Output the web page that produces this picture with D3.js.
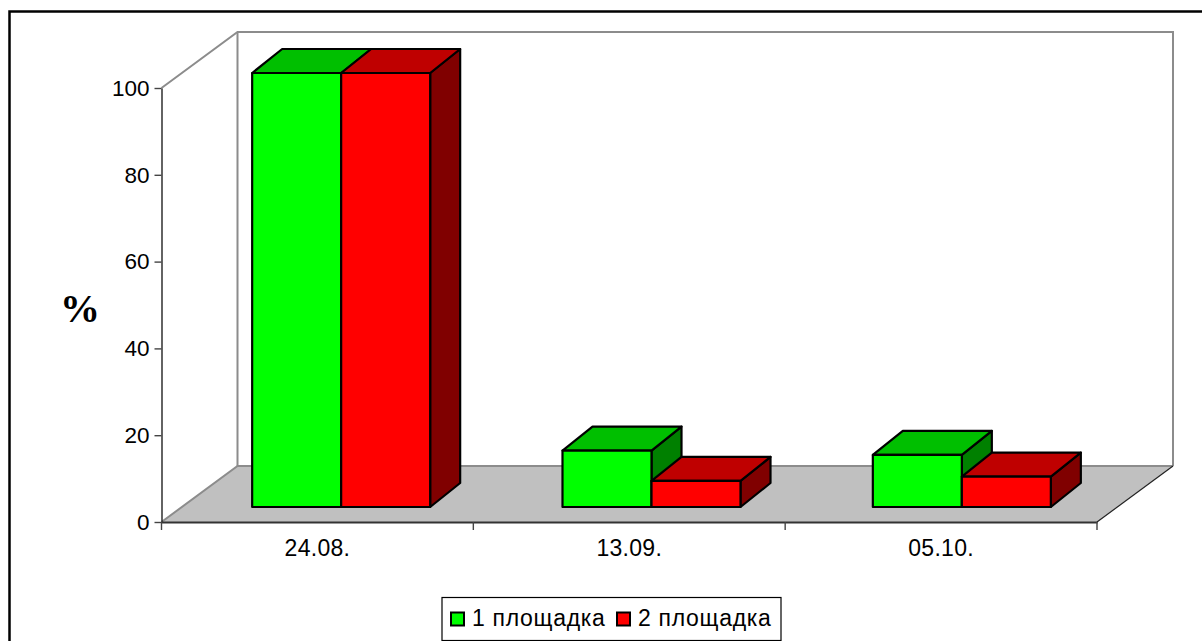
<!DOCTYPE html>
<html>
<head>
<meta charset="utf-8">
<script src="https://cdn.jsdelivr.net/npm/d3@7"></script>
<style>
  html, body { margin: 0; padding: 0; background: #fff; }
  text { font-family: "Liberation Sans", Arial, sans-serif; fill: #000; }
</style>
</head>
<body>
<div id="chart"></div>
<script>
const categories = ["24.08.", "13.09.", "05.10."];
const seriesNames = ["1 площадка", "2 площадка"];
const site1 = [100, 13, 12];
const site2 = [100, 6, 7];
const yTicks = [0, 20, 40, 60, 80, 100];

const frontColors = ["#00ff00", "#ff0000"];
const topColors = ["#00bf00", "#bf0000"];
const sideColors = ["#008000", "#800000"];

const width = 1202, height = 641;
const wallDx = 76, wallDy = -56;   // depth of the whole chart box
const barDx = 30, barDy = -24;     // depth of one bar
const barLift = 15;                // bars stand this far up the floor

const svg = d3.select("#chart").append("svg")
    .attr("width", width)
    .attr("height", height)
    .style("display", "block");

const y = d3.scaleLinear().domain([0, 100]).range([522, 88]);
const x = d3.scaleBand().domain(categories).range([161.5, 1097]);
const barGroup = d3.scaleBand().domain(categories).range([186, 1117]);
const barInner = d3.scaleBand().domain([0, 1]).range([0, 178]);
const groupPad = (barGroup.bandwidth() - 178) / 2;

const path = pts => d3.line()(pts) + "Z";

// outer frame, only left and top are in the picture
svg.append("path")
    .attr("d", "M9.5,641V11.5H1202")
    .attr("fill", "none")
    .attr("stroke", "#000")
    .attr("stroke-width", 2.5);

const x0 = x.range()[0], x1 = x.range()[1];
const y0 = y(0), y100 = y(100);

// walls
svg.append("path")
    .attr("d", d3.line()([[x0, y100], [x0 + wallDx, y100 + wallDy], [x1 + wallDx, y100 + wallDy], [x1 + wallDx, y0 + wallDy]]))
    .attr("fill", "none")
    .attr("stroke", "#8c8c8c")
    .attr("stroke-width", 2);
svg.append("line")
    .attr("x1", x0 + wallDx).attr("x2", x0 + wallDx)
    .attr("y1", y100 + wallDy).attr("y2", y0 + wallDy)
    .attr("stroke", "#8c8c8c")
    .attr("stroke-width", 2);

// floor
svg.append("path")
    .attr("d", path([[x0, y0], [x0 + wallDx, y0 + wallDy], [x1 + wallDx, y0 + wallDy], [x1, y0]]))
    .attr("fill", "#c0c0c0");
svg.append("path")
    .attr("d", d3.line()([[x0, y0], [x0 + wallDx, y0 + wallDy], [x1 + wallDx, y0 + wallDy]]))
    .attr("fill", "none")
    .attr("stroke", "#8c8c8c")
    .attr("stroke-width", 2);
svg.append("line")
    .attr("x1", x1).attr("y1", y0)
    .attr("x2", x1 + wallDx).attr("y2", y0 + wallDy)
    .attr("stroke", "#222")
    .attr("stroke-width", 1.2);

// bars
const bars = [];
[site1, site2].forEach((vals, s) => {
    vals.forEach((v, i) => bars.push({cat: categories[i], s: s, v: v}));
});

const barG = svg.append("g")
    .attr("stroke", "#000")
    .attr("stroke-width", 2.2)
    .attr("stroke-linejoin", "round");

categories.forEach(cat => {
    bars.filter(d => d.cat === cat).forEach(d => {
        const l = barGroup(cat) + groupPad + barInner(d.s);
        const r = l + barInner.bandwidth();
        const b = y(0) - barLift;
        const t = y(d.v) - barLift;
        barG.append("path")
            .attr("d", path([[r, b], [r + barDx, b + barDy], [r + barDx, t + barDy], [r, t]]))
            .attr("fill", sideColors[d.s]);
        barG.append("path")
            .attr("d", path([[l, t], [l + barDx, t + barDy], [r + barDx, t + barDy], [r, t]]))
            .attr("fill", topColors[d.s]);
        barG.append("rect")
            .attr("x", l).attr("y", t)
            .attr("width", r - l).attr("height", b - t)
            .attr("fill", frontColors[d.s]);
    });
});

// axes
const yAxis = d3.axisLeft(y).tickValues(yTicks).tickSize(7).tickPadding(5).tickSizeOuter(0);
const yAxisG = svg.append("g")
    .attr("transform", `translate(${x0},0)`)
    .call(yAxis);
yAxisG.select(".domain").attr("stroke", "#222").attr("stroke-width", 1.4);
yAxisG.selectAll("line").attr("stroke", "#444").attr("stroke-width", 1.4);
yAxisG.selectAll("text").style("font-size", "22.5px").style("font-family", '"Liberation Sans"');

const xAxis = d3.axisBottom(x).tickSize(0).tickPadding(18);
const xAxisG = svg.append("g")
    .attr("transform", `translate(0,${y0})`)
    .call(xAxis);
xAxisG.select(".domain").attr("stroke", "#333").attr("stroke-width", 2);
xAxisG.selectAll("text")
    .style("font-size", "23px")
    .style("letter-spacing", "0.3px")
    .style("font-family", '"Liberation Sans"');

// x ticks sit between the categories
const xEdges = categories.map(c => x(c)).concat([x1]);
svg.append("g").selectAll("line")
    .data(xEdges)
    .join("line")
    .attr("x1", d => d).attr("x2", d => d)
    .attr("y1", y0).attr("y2", y0 + 8)
    .attr("stroke", "#444")
    .attr("stroke-width", 1.4);

// y title
svg.append("text")
    .attr("x", 80)
    .attr("y", 322)
    .attr("text-anchor", "middle")
    .style("font-family", '"Liberation Serif", serif')
    .style("font-weight", "bold")
    .style("font-size", "40px")
    .text("%");

// legend
const legend = svg.append("g");
legend.append("rect")
    .attr("x", 442).attr("y", 597.5)
    .attr("width", 339).attr("height", 43)
    .attr("fill", "#fff")
    .attr("stroke", "#000")
    .attr("stroke-width", 1.2);
const swatchX = [451, 617];
seriesNames.forEach((name, i) => {
    legend.append("rect")
        .attr("x", swatchX[i]).attr("y", 612.5)
        .attr("width", 13).attr("height", 13)
        .attr("fill", frontColors[i])
        .attr("stroke", "#000")
        .attr("stroke-width", 2);
    legend.append("text")
        .attr("x", swatchX[i] + 21)
        .attr("y", 626)
        .style("font-size", "23px")
        .style("letter-spacing", "0.7px")
        .text(name);
});
</script>
</body>
</html>
